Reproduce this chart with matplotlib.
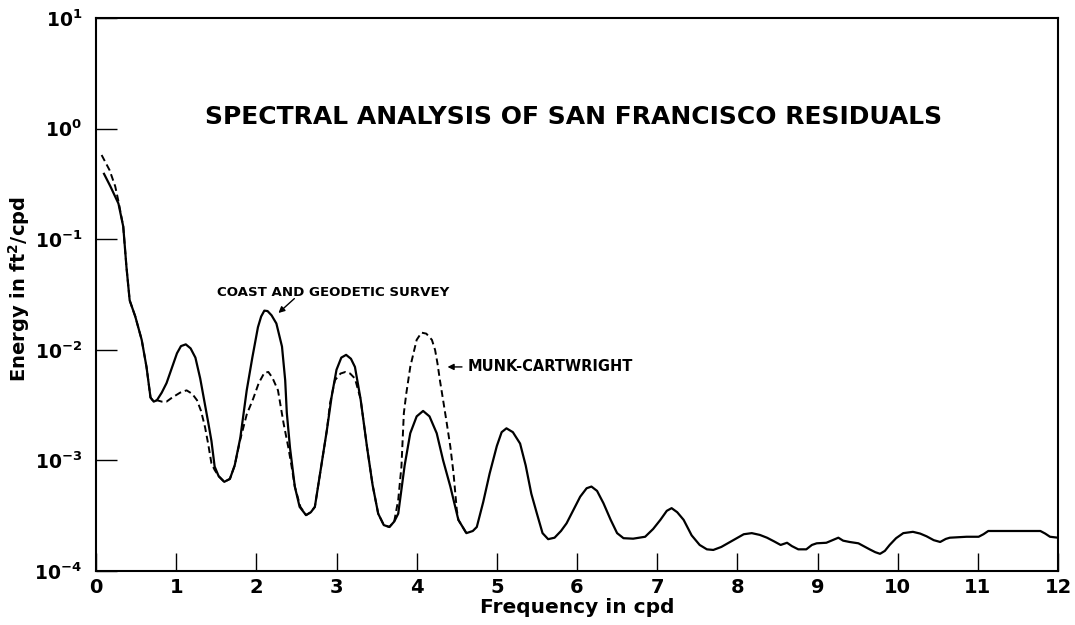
import matplotlib
matplotlib.use("Agg")
import matplotlib.pyplot as plt
from matplotlib.ticker import NullLocator

# Coast and Geodetic Survey spectrum (solid)
cgs_freq = [0.10, 0.18, 0.28, 0.34, 0.38, 0.42, 0.49, 0.57, 0.63, 0.68, 0.72, 0.76,
            0.82, 0.88, 0.95, 1.01, 1.06, 1.12, 1.18, 1.24, 1.30, 1.35, 1.40, 1.44,
            1.48, 1.53, 1.60, 1.67, 1.73, 1.80, 1.88, 1.95, 2.02, 2.06, 2.10, 2.14, 2.19, 2.25,
            2.32, 2.36, 2.38, 2.42, 2.48, 2.54, 2.62, 2.68, 2.73, 2.80, 2.88, 2.94, 3.00,
            3.06, 3.12, 3.18, 3.23, 3.30, 3.38, 3.45, 3.52, 3.59, 3.66, 3.72, 3.77,
            3.85, 3.92, 4.00, 4.08, 4.16, 4.25, 4.33, 4.42, 4.52, 4.62, 4.70, 4.75,
            4.83, 4.91, 5.00, 5.06, 5.12, 5.20, 5.29, 5.36, 5.43, 5.50, 5.57, 5.64,
            5.72, 5.80, 5.87, 5.95, 6.04, 6.12, 6.18, 6.25, 6.33, 6.42, 6.50, 6.58,
            6.70, 6.85, 6.95, 7.04, 7.12, 7.18, 7.25, 7.33, 7.43, 7.53, 7.62, 7.70,
            7.80, 7.95, 8.08, 8.18, 8.28, 8.37, 8.46, 8.54, 8.62, 8.68, 8.76, 8.86,
            8.93, 8.99, 9.11, 9.20, 9.26, 9.32, 9.40, 9.51, 9.65, 9.72, 9.78, 9.84,
            9.90, 9.98, 10.07, 10.19, 10.28, 10.36, 10.45, 10.53, 10.60, 10.65, 10.86, 11.01,
            11.07, 11.13, 11.44, 11.78, 11.84, 11.90, 12.0]
cgs_energy = [0.39, 0.30, 0.21, 0.13, 0.056, 0.028, 0.020, 0.0123, 0.0070, 0.0037, 0.0034, 0.0035,
              0.0041, 0.0050, 0.0070, 0.0093, 0.0108, 0.0112, 0.0103, 0.0085, 0.0055, 0.0035, 0.0022, 0.0015,
              0.00088, 0.00072, 0.00064, 0.00068, 0.0009, 0.0016, 0.0043, 0.0085, 0.016, 0.020, 0.0226, 0.0224, 0.0205, 0.0173,
              0.0107, 0.0053, 0.0027, 0.0013, 0.00058, 0.00038, 0.00032, 0.00034, 0.00038, 0.0008, 0.00188, 0.0038, 0.0066,
              0.0085, 0.0090, 0.0083, 0.0070, 0.0036, 0.00133, 0.0006, 0.00033, 0.00026, 0.00025, 0.00028, 0.00033,
              0.0009, 0.00176, 0.0025, 0.0028, 0.0025, 0.00176, 0.0010, 0.00058, 0.00029, 0.00022, 0.00023, 0.00025,
              0.00042, 0.00076, 0.00135, 0.0018, 0.00195, 0.0018, 0.00142, 0.0009, 0.0005, 0.00033, 0.00022, 0.000194,
              0.0002, 0.00023, 0.00027, 0.00035, 0.00047, 0.00056, 0.00058, 0.00053, 0.00041, 0.00029, 0.00022, 0.000198,
              0.000196, 0.000204, 0.00024, 0.00029, 0.00035, 0.00037, 0.00034, 0.00029, 0.00021, 0.000172, 0.000157, 0.000155,
              0.000165, 0.00019, 0.000215, 0.00022, 0.000212, 0.0002, 0.000185, 0.000172, 0.00018, 0.000168, 0.000157, 0.000157,
              0.000172, 0.000178, 0.00018, 0.000192, 0.0002, 0.000188, 0.000183, 0.000178, 0.000157, 0.000148, 0.000143, 0.000152,
              0.000172, 0.000198, 0.00022, 0.000226, 0.000218, 0.000206, 0.00019, 0.000183, 0.000195, 0.0002, 0.000204, 0.000204,
              0.000215, 0.00023, 0.00023, 0.00023, 0.000218, 0.000204, 0.0002]

# Munk-Cartwright spectrum (dashed)
mc_freq = [0.07, 0.17, 0.24, 0.28, 0.34, 0.38, 0.42, 0.49, 0.57, 0.63, 0.68, 0.72, 0.76,
           0.82, 0.88, 0.95, 1.05, 1.13, 1.20, 1.26, 1.31, 1.36, 1.40, 1.44, 1.48,
           1.53, 1.60, 1.67, 1.73, 1.80, 1.88, 1.96, 2.03, 2.10, 2.15, 2.20, 2.27,
           2.34, 2.40, 2.44, 2.48, 2.55, 2.62, 2.68, 2.73, 2.80, 2.88, 2.92, 2.98,
           3.05, 3.11, 3.17, 3.23, 3.30, 3.38, 3.45, 3.52, 3.59, 3.66, 3.72, 3.77,
           3.81, 3.84, 3.87, 3.92, 3.96, 4.00, 4.06, 4.12, 4.19, 4.23, 4.26, 4.29, 4.33, 4.37,
           4.42, 4.46, 4.50, 4.52, 4.62]
mc_energy = [0.577, 0.42, 0.30, 0.22, 0.13, 0.056, 0.028, 0.020, 0.0123, 0.0070, 0.0037, 0.0034, 0.0035,
             0.0034, 0.0034, 0.0037, 0.0041, 0.0043, 0.0040, 0.0035, 0.0028, 0.0020, 0.0014, 0.00094, 0.00082,
             0.00072, 0.00064, 0.00068, 0.0009, 0.00155, 0.0026, 0.0036, 0.0050, 0.0062, 0.0063, 0.0056, 0.0043,
             0.00216, 0.0013, 0.00088, 0.00058, 0.00038, 0.00032, 0.00034, 0.00038, 0.0008, 0.00188, 0.0033, 0.0053,
             0.0061, 0.0063, 0.0061, 0.0055, 0.0036, 0.00133, 0.0006, 0.00033, 0.00026, 0.00025, 0.00028, 0.00044,
             0.00088, 0.00267, 0.0040, 0.0070, 0.0093, 0.0123, 0.0143, 0.0140, 0.0123, 0.00995, 0.0075, 0.0053, 0.0035, 0.0023,
             0.00133, 0.00076, 0.00036, 0.00029, 0.00022]

x_ticks = list(range(0, 13))
y_ticks = [1e-4, 1e-3, 1e-2, 1e-1, 1e0, 1e1]
y_tick_labels = [r'$\mathbf{10^{-4}}$', r'$\mathbf{10^{-3}}$', r'$\mathbf{10^{-2}}$',
                 r'$\mathbf{10^{-1}}$', r'$\mathbf{10^{0}}$', r'$\mathbf{10^{1}}$']

plt.rcParams['mathtext.fontset'] = 'dejavusans'

fig = plt.figure(figsize=(10.75, 6.25), dpi=100)
ax = fig.add_axes([0.0893, 0.0864, 0.8949, 0.8848])

ax.plot(cgs_freq, cgs_energy, color='black', lw=1.6, solid_joinstyle='round')
ax.plot(mc_freq, mc_energy, color='black', lw=1.4, linestyle=(0, (3.5, 2.0)))

ax.set_yscale('log')
ax.set_xlim(0, 12)
ax.set_ylim(1e-4, 1e1)
ax.yaxis.set_minor_locator(NullLocator())

ax.set_xticks(x_ticks)
ax.set_xticklabels([str(t) for t in x_ticks], fontweight='bold', fontsize=14)
ax.set_yticks(y_ticks)
ax.set_yticklabels(y_tick_labels, fontsize=13.5)

ax.tick_params(axis='y', direction='in', length=15, width=1.0, pad=10)
ax.tick_params(axis='x', direction='in', length=13, width=1.0, pad=5)
for sp in ax.spines.values():
    sp.set_linewidth(1.5)

ax.set_xlabel('Frequency in cpd', fontsize=14.5, fontweight='bold', labelpad=1)
ax.set_ylabel(r'Energy in ft$^{\mathbf{2}}$/cpd', fontsize=14, fontweight='bold')
ax.yaxis.set_label_coords(-0.067, 0.51)

ax.text(0.496, 0.821, 'SPECTRAL ANALYSIS OF SAN FRANCISCO RESIDUALS', transform=ax.transAxes,
        ha='center', va='center', fontsize=18, fontweight='bold')

ax.text(1.51, 0.033, 'COAST AND GEODETIC SURVEY', ha='left', va='center',
        fontsize=9.6, fontweight='bold')
ax.annotate('', xy=(2.25, 0.0207), xytext=(2.50, 0.0302),
            arrowprops=dict(arrowstyle='-|>', color='black', lw=1.0, mutation_scale=9))

ax.text(4.63, 0.0070, 'MUNK-CARTWRIGHT', ha='left', va='center',
        fontsize=10.5, fontweight='bold')
ax.annotate('', xy=(4.35, 0.0070), xytext=(4.60, 0.0070),
            arrowprops=dict(arrowstyle='-|>', color='black', lw=1.0, mutation_scale=9))

fig.savefig('out.png', dpi=100)
